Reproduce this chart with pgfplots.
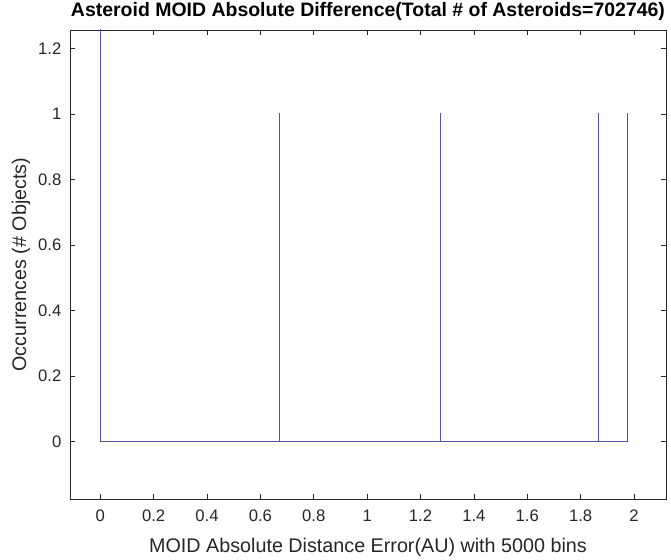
\documentclass[border=0pt]{standalone}
\usepackage{pgfplots}
\pgfplotsset{compat=1.18}
\usepackage{fontspec}
\setmainfont{Liberation Sans}
\definecolor{histc}{RGB}{82,82,168}
\definecolor{axc}{RGB}{38,38,38}
\begin{document}
\begin{tikzpicture}[x=0.75pt,y=0.75pt]
\useasboundingbox (-70,-61) rectangle (601,499);
\begin{axis}[
  at={(0,0)}, anchor=south west,
  scale only axis, width=447pt, height=351.75pt,
  xmin=-0.1135, xmax=2.12, ymin=-0.176, ymax=1.2567,
  xtick={0,0.2,...,2.01}, ytick={0,0.2,...,1.21},
  xticklabels={0,0.2,0.4,0.6,0.8,1,1.2,1.4,1.6,1.8,2},
  yticklabels={0,0.2,0.4,0.6,0.8,1,1.2},
  tick align=inside, major tick length=4pt,
  axis line style={axc, line width=0.6pt},
  every tick/.style={axc, line width=0.5pt},
  tick label style={font=\fontsize{12.5}{14}\selectfont, text=axc},
  xticklabel style={yshift=-4.5pt},
  yticklabel style={xshift=-3pt},
  /pgf/number format/assume math mode=true,
  title={\textbf{Asteroid MOID Absolute Difference(Total \# of Asteroids=702746)}},
  title style={font=\fontsize{14.6}{16}\selectfont, at={(axis description cs:0.5,1)}, anchor=base, yshift=3.75pt},
  xlabel={MOID Absolute Distance Error(AU) with 5000 bins},
  ylabel={Occurrences (\# Objects)},
  xlabel style={font=\fontsize{14.8}{16}\selectfont, text=axc, at={(axis description cs:0.5,-0.1151)}, anchor=base},
  ylabel style={font=\fontsize{14.8}{16}\selectfont, text=axc, at={(axis description cs:-0.0738,0.5)}, anchor=base},
  clip=true,
  restrict y to domain*=-1:2,
]
\addplot[histc, line width=0.8pt, mark=none] coordinates {
(0,0)(0,702742)(0.0004,702742)(0.0004,0)
(0.6700,0)(0.6700,1)(0.6704,1)(0.6704,0)
(1.2740,0)(1.2740,1)(1.2744,1)(1.2744,0)
(1.8660,0)(1.8660,1)(1.8664,1)(1.8664,0)
(1.9760,0)(1.9760,1)(1.9764,1)(1.9764,0)
};
\end{axis}
\end{tikzpicture}
\end{document}
